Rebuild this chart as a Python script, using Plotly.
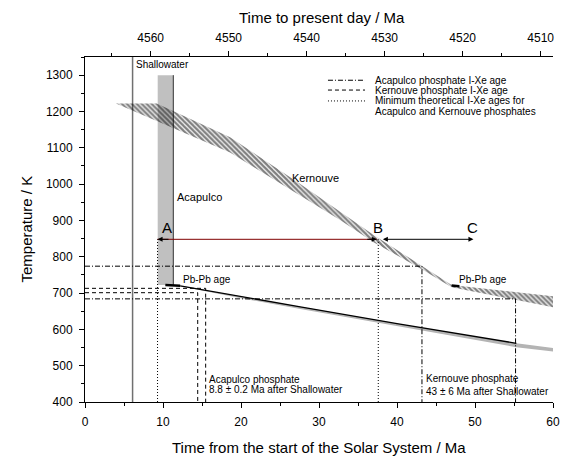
import plotly.graph_objects as go

# ---------------- data ----------------
shallowater_x = 6.1
acapulco_bar_x = [9.32, 11.32]
acapulco_bar_T = [722, 1300]

# Kernouve hatched cooling band
kern_up_x = [3.97, 9.2, 18.6, 27.6, 37.0, 43.4, 47.0, 60.0]
kern_up_T = [1222, 1222, 1129, 1000, 860, 772, 722, 691]
kern_lo_x = [60.0, 47.0, 43.4, 37.0, 32.7, 18.6, 3.97]
kern_lo_T = [661, 716, 763, 840, 901, 1087, 1222]

# Acapulco cooling line (black) and grey envelope
acap_line_x = [12.2, 20.0, 27.6, 40.0, 55.3]
acap_line_T = [720, 690, 662, 616, 561.6]
acap_env_x = [12.2, 20.0, 27.6, 40.0, 55.3, 60.0]
acap_env_up = [720, 690, 662, 616, 561.6, 549]
acap_env_lo = [719, 686, 656, 608, 551, 539]

# Pb-Pb age markers
acap_pbpb_x = [10.3, 12.2]
acap_pbpb_T = [722, 720]
kern_pbpb_x = [47.0, 48.0]
kern_pbpb_T = [721, 719]

# I-Xe age lines (x = time, T = temperature)
dashdot_x = [43.2, 55.2]
dashdot_T = [774, 684]
dashed_x = [14.45, 15.47]
dashed_T = [701, 713]
dotted_x = [9.3, 37.6]
dotted_T = [848, 848]

arrow_T = 848
point_A = 9.3
point_B = 37.4
point_C = 49.8

top_ticks = [4560, 4550, 4540, 4530, 4520, 4510]
top_offset = 4568.42

legend_labels = ["Acapulco phosphate I-Xe age",
                 "Kernouve phosphate I-Xe age",
                 "Minimum theoretical I-Xe ages for",
                 "Acapulco and Kernouve phosphates"]
legend_dashes = ["5px,2px,1px,2px", "4px,3px", "1px,2px"]

FONT = "Liberation Sans, Arial, sans-serif"
DASHDOT = "5px,2px,1px,2px"
DASHED = "4px,3px"
DOTTED = "1px,2px"
YMIN = 400

fig = go.Figure()

# grey Acapulco bar
fig.add_trace(go.Scatter(
    x=[acapulco_bar_x[0], acapulco_bar_x[1], acapulco_bar_x[1], acapulco_bar_x[0], acapulco_bar_x[0]],
    y=[acapulco_bar_T[0], acapulco_bar_T[0], acapulco_bar_T[1], acapulco_bar_T[1], acapulco_bar_T[0]],
    fill="toself", fillcolor="#c0c0c0", line=dict(width=0), mode="lines",
    hoverinfo="skip", showlegend=False))
fig.add_trace(go.Scatter(
    x=[acapulco_bar_x[1], acapulco_bar_x[1]], y=acapulco_bar_T,
    mode="lines", line=dict(color="#333333", width=1), showlegend=False))

# Shallowater line
fig.add_trace(go.Scatter(
    x=[shallowater_x, shallowater_x], y=[YMIN, 1350],
    mode="lines", line=dict(color="#707070", width=1.5), showlegend=False))

# Kernouve hatched band
fig.add_trace(go.Scatter(
    x=kern_up_x + kern_lo_x, y=kern_up_T + kern_lo_T,
    fill="toself", mode="lines", line=dict(width=0, color="rgba(0,0,0,0)"),
    fillcolor="rgba(0,0,0,0)",
    fillpattern=dict(shape="\\", fgcolor="black", bgcolor="rgba(255,255,255,0)",
                     size=3.5, solidity=0.65),
    showlegend=False, hoverinfo="skip"))

# grey Acapulco envelope
fig.add_trace(go.Scatter(
    x=acap_env_x + acap_env_x[::-1], y=acap_env_up + acap_env_lo[::-1],
    fill="toself", fillcolor="#b4b4b4", mode="lines", line=dict(width=0),
    showlegend=False, hoverinfo="skip"))
fig.add_trace(go.Scatter(
    x=acap_line_x, y=acap_line_T, mode="lines",
    line=dict(color="black", width=1.3), showlegend=False))

# Pb-Pb markers
for xs, ys in [(acap_pbpb_x, acap_pbpb_T), (kern_pbpb_x, kern_pbpb_T)]:
    fig.add_trace(go.Scatter(x=xs, y=ys, mode="lines",
                             line=dict(color="black", width=2.5), showlegend=False))

# I-Xe age lines
for xs, ts, dash in [(dashdot_x, dashdot_T, DASHDOT), (dashed_x, dashed_T, DASHED)]:
    for xv, tv in zip(xs, ts):
        fig.add_trace(go.Scatter(x=[0, xv, xv], y=[tv, tv, YMIN], mode="lines",
                                 line=dict(color="black", width=1, dash=dash),
                                 showlegend=False))
for xv, tv in zip(dotted_x, dotted_T):
    fig.add_trace(go.Scatter(x=[xv, xv], y=[YMIN, tv], mode="lines",
                             line=dict(color="black", width=1, dash=DOTTED),
                             showlegend=False))

# red A-B line
fig.add_trace(go.Scatter(x=[point_A, point_B], y=[arrow_T, arrow_T], mode="lines",
                         line=dict(color="#800000", width=1), showlegend=False))

# dummy trace for the top axis
fig.add_trace(go.Scatter(x=top_ticks, y=[YMIN] * len(top_ticks), xaxis="x2",
                         mode="markers", marker=dict(opacity=0), showlegend=False,
                         hoverinfo="skip"))

anns = []
def arrow(x_tip, x_tail, side="end"):
    anns.append(dict(x=x_tip, y=arrow_T, ax=x_tail, ay=arrow_T, xref="x", yref="y",
                     axref="x", ayref="y", showarrow=True, arrowhead=2, arrowsize=1,
                     arrowwidth=1, arrowcolor="black", text="", arrowside=side,
                     standoff=0, startstandoff=0))
arrow(point_A, point_A + 1.6)
arrow(point_B, point_B - 1.4)
arrow(point_C, point_B + 0.6, side="end+start")

def label(x, y, text, size=10, xanchor="left"):
    anns.append(dict(x=x, y=y, xref="x", yref="y", text=text, showarrow=False,
                     xanchor=xanchor, yanchor="middle",
                     font=dict(family=FONT, size=size, color="black")))

label(6.3, 1329, "Shallowater", 10)
label(11.6, 964, "Acapulco", 11)
label(26.3, 1016, "Kernouve", 11)
label(12.3, 736, "Pb-Pb age", 10)
label(47.65, 736, "Pb-Pb age", 10)
label(15.7, 462, "Acapulco phosphate", 10)
label(15.7, 435, "8.8 ± 0.2 Ma after Shallowater", 10)
label(43.5, 465, "Kernouve phosphate", 10)
label(43.5, 430, "43 ± 6 Ma after Shallowater", 10)
label(10.47, 880, "A", 15, "center")
label(37.56, 880, "B", 15, "center")
label(49.7, 880, "C", 15, "center")

# legend (drawn manually)
leg_x0, leg_x1, leg_tx = 31.15, 35.9, 36.96
leg_rows = [1286, 1259, 1229, 1201]
shapes = []
for dash, yv in zip(legend_dashes, leg_rows):
    shapes.append(dict(type="line", x0=leg_x0, x1=leg_x1, y0=yv, y1=yv, xref="x", yref="y",
                       line=dict(color="black", width=1, dash=dash)))
for txt, yv in zip(legend_labels, leg_rows):
    label(leg_tx, yv, txt, 10)

# axis titles
anns.append(dict(x=0.5, y=0, xref="paper", yref="paper", yshift=-45, showarrow=False,
                 text="Time from the start of the Solar System / Ma", xanchor="center",
                 yanchor="middle", font=dict(family=FONT, size=15, color="black")))
anns.append(dict(x=0.506, y=1, xref="paper", yref="paper", yshift=40, showarrow=False,
                 text="Time to present day / Ma", xanchor="center",
                 yanchor="middle", font=dict(family=FONT, size=15, color="black")))
anns.append(dict(x=0, y=0.5, xref="paper", yref="paper", xshift=-59, showarrow=False,
                 text="Temperature / K", textangle=-90, xanchor="center",
                 yanchor="middle", font=dict(family=FONT, size=15, color="black")))

common = dict(ticks="outside", ticklen=5, tickcolor="black", showline=True,
              linecolor="black", linewidth=1, showgrid=False, zeroline=False,
              tickfont=dict(size=12), automargin=False, ticklabelstandoff=4)

fig.update_layout(
    width=562, height=456,
    margin=dict(l=85, r=9, t=57, b=54, autoexpand=False),
    paper_bgcolor="white", plot_bgcolor="white",
    font=dict(family=FONT, size=12, color="black"),
    showlegend=False, hovermode=False,
    annotations=anns, shapes=shapes,
    xaxis=dict(range=[0, 60], dtick=10, tick0=0,
               minor=dict(dtick=5, ticks="outside", ticklen=3, tickcolor="black", showgrid=False),
               **common),
    xaxis2=dict(range=[top_offset, top_offset - 60], overlaying="x", side="top", anchor="y",
                dtick=10, tick0=4510,
                minor=dict(dtick=5, ticks="outside", ticklen=3, tickcolor="black", showgrid=False),
                **common),
    yaxis=dict(range=[400, 1350], dtick=100, tick0=400,
               minor=dict(dtick=50, ticks="outside", ticklen=3, tickcolor="black", showgrid=False),
               **common),
)

# remove the default 8px page margin so the figure fills the window exactly
fig.write_html("out.html", config={"displayModeBar": False},
               post_script="document.body.style.margin='0';")
